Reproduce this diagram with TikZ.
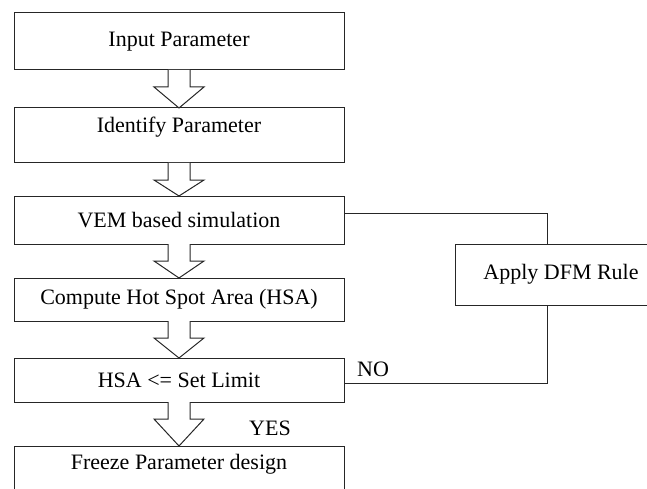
\documentclass[tikz,border=0pt]{standalone}
\usepackage{fontspec}
\setmainfont{Liberation Serif}
\usetikzlibrary{calc, positioning}

\begin{document}
\begin{tikzpicture}[
    x=1pt, y=-1pt,
    box/.style={draw=black!85, line width=1pt, rectangle, align=center, minimum width=330pt,
        inner sep=0pt, outer sep=0pt, font=\fontsize{22}{26}\selectfont},
    lbl/.style={inner sep=0pt, font=\fontsize{22}{26}\selectfont},
    link/.style={draw=black!85, line width=1pt},
    blockarrow/.style={draw=black!85, line width=1pt, fill=white,
        to path={let \p1=(\tikztostart.south), \p2=(\tikztotarget.north) in
            (\x1-11pt,\y1) -- (\x1-11pt,\y1-17pt) -- (\x1-25pt,\y1-17pt) -- (\x1,\y2)
            -- (\x1+25pt,\y1-17pt) -- (\x1+11pt,\y1-17pt) -- (\x1+11pt,\y1)}}
]
\useasboundingbox (0,0) rectangle (647,489);

\node[box, minimum height=57pt] (input) at (179,41.5) {Input Parameter};
\node[box, minimum height=55pt, text depth=21pt, below=38pt of input] (identify) {Identify Parameter};
\node[box, minimum height=48pt, below=33pt of identify] (vem) {VEM based simulation};
\node[box, minimum height=43pt, below=34pt of vem] (hsacalc) {Compute Hot Spot Area (HSA)};
\node[box, minimum height=44pt, below=37pt of hsacalc] (hsa) {HSA <= Set Limit};
\node[box, below=44pt of hsa, text height=23pt, text depth=40pt] (freeze) {Freeze Parameter design};

\node[box, minimum width=212pt, minimum height=61pt] (dfm) at (561,274.5) {Apply DFM Rule};

\node[lbl] (no) at (373,369) {NO};
\node[lbl] (yes) at (270,428) {YES};

\draw[blockarrow] (input) to (identify);
\draw[blockarrow] (identify) to (vem);
\draw[blockarrow] (vem) to (hsacalc);
\draw[blockarrow] (hsacalc) to (hsa);
\draw[blockarrow] (hsa) to (freeze);

\draw[link] ([yshift=7pt]vem.east) -| ([xshift=-14pt]dfm.north);
\draw[link] ([xshift=-14pt]dfm.south) |- ([yshift=-3pt]hsa.east);

\end{tikzpicture}
\end{document}
